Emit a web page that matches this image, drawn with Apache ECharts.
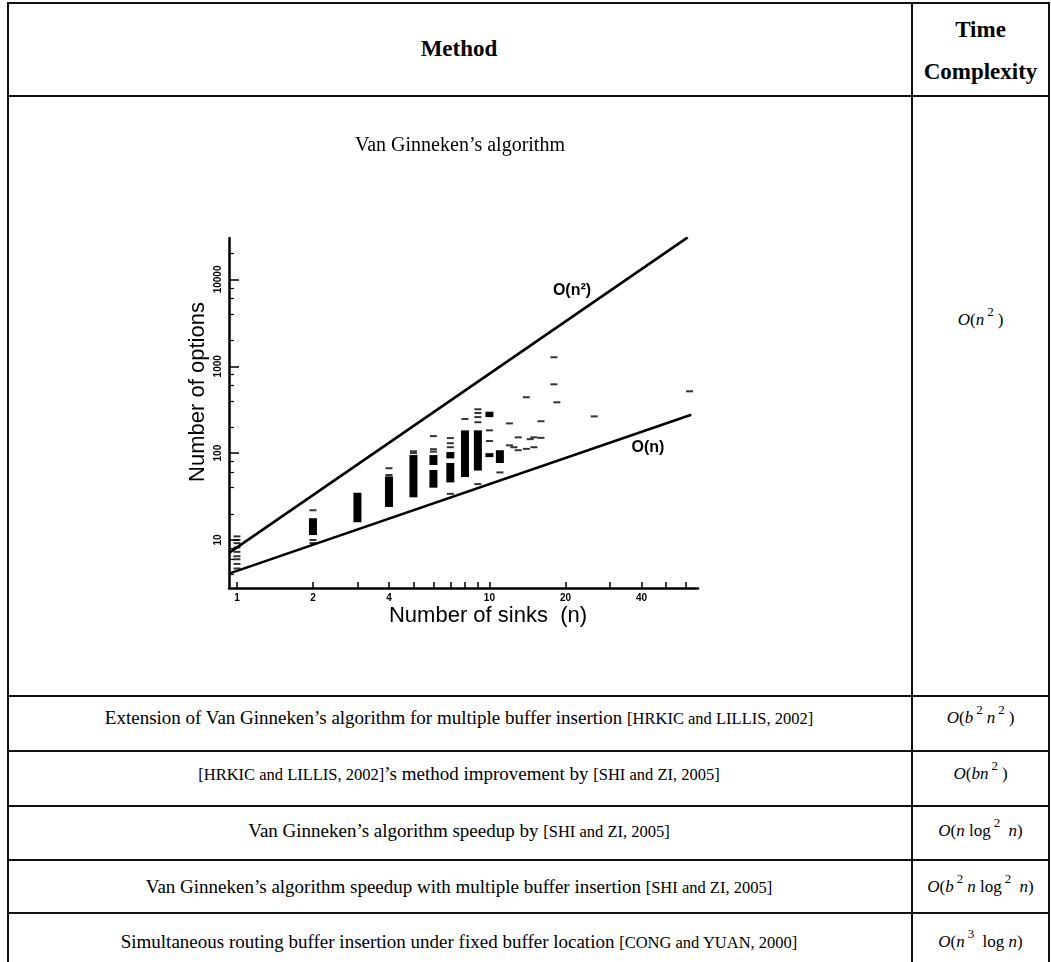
<!DOCTYPE html>
<html>
<head>
<meta charset="utf-8">
<script src="https://cdn.jsdelivr.net/npm/echarts@6/dist/echarts.min.js"></script>
<style>
html, body { margin: 0; padding: 0; background: #fff; }
#page { position: relative; width: 1051px; height: 962px; overflow: hidden;
  font-family: "Liberation Serif", "Times New Roman", serif; color: #000; }
.h { position: absolute; height: 2px; background: #111; }
.v { position: absolute; width: 2px; background: #111; }
.cell { position: absolute; display: flex; align-items: center; justify-content: center; text-align: center; white-space: nowrap; }
.head { font-weight: bold; font-size: 23px; line-height: 42px; }
.row { font-size: 19px; }
.cite { font-size: 16.5px; }
.cx { font-size: 17px; }
.cx i { font-style: italic; }
.cx sup { font-size: 13px; vertical-align: 9px; margin: 0 4px 0 3px; line-height: 0; }
#chart { position: absolute; left: 0; top: 0; width: 1051px; height: 962px; }
</style>
</head>
<body>
<div id="page">
  <div id="table"></div>
  <div id="chart"></div>
</div>
<script>
// table text
const methods = [
  'Extension of Van Ginneken\u2019s algorithm for multiple buffer insertion <span class="cite">[HRKIC and LILLIS, 2002]</span>',
  '<span class="cite">[HRKIC and LILLIS, 2002]</span>\u2019s method improvement by <span class="cite">[SHI and ZI, 2005]</span>',
  'Van Ginneken\u2019s algorithm speedup by <span class="cite">[SHI and ZI, 2005]</span>',
  'Van Ginneken\u2019s algorithm speedup with multiple buffer insertion <span class="cite">[SHI and ZI, 2005]</span>',
  'Simultaneous routing buffer insertion under fixed buffer location <span class="cite">[CONG and YUAN, 2000]</span>'
];
const complexities = [
  '<i>O</i>(<i>b</i><sup>2</sup><i>n</i><sup>2</sup>)',
  '<i>O</i>(<i>bn</i><sup>2</sup>)',
  '<i>O</i>(<i>n</i> log<sup>2</sup> <i>n</i>)',
  '<i>O</i>(<i>b</i><sup>2</sup><i>n</i> log<sup>2</sup> <i>n</i>)',
  '<i>O</i>(<i>n</i><sup>3</sup> log <i>n</i>)'
];
const chartRowComplexity = '<i>O</i>(<i>n</i><sup>2</sup>)';

// chart data
const sinkTicks = [1, 2, 3, 4, 5, 6, 7, 8, 9, 10, 20, 30, 40, 50, 60];
const sinkLabels = [1, 2, 4, 10, 20, 40];
const optionLabels = [10, 100, 1000, 10000];
const optionMinorTicks = [4, 6, 8, 20, 40, 60, 80, 200, 400, 600, 800, 2000, 4000, 6000, 8000, 20000];
const quadraticLine = [[0.93, 7.1], [61, 30500]];
const linearLine = [[0.93, 4.1], [63, 277]];
// solid blocks of options: [sinks, low, high]
const denseRanges = [
  [2, 11.4, 17.8], [3, 16, 35], [4, 24, 54], [5, 31, 95],
  [6, 73, 95], [6, 40, 64], [7, 87, 103], [7, 46, 77],
  [8, 53, 183], [9, 63, 183], [10, 260, 300], [10, 90, 100], [11, 77, 108]
];
// single option marks: [sinks, options]
const sparseMarks = [
  [1, 11], [1, 10], [1, 9.2], [1, 8.2], [1, 7.3], [1, 6.5], [1, 6], [1, 5.3], [1, 4.7],
  [2, 22], [2, 10], [2, 9.2],
  [4, 67], [4, 56], [5, 105], [5, 100],
  [6, 157], [6, 111], [6, 104],
  [7, 149], [7, 130], [7, 117], [7, 34],
  [8, 247], [9, 320], [9, 290], [9, 260], [9, 227], [9, 44],
  [10, 183], [10, 138], [11, 60],
  [12, 220], [12, 123], [12.5, 117], [13, 152], [13, 108], [14, 440], [14, 112], [14.5, 145],
  [15, 152], [15, 117], [16, 233], [16, 150], [18, 1270], [18, 620], [18.5, 385], [26, 265], [62, 515]
];

// table layout
const colLeft = 7, colMid = 911, colRight = 1048;
const rowLines = [2, 95, 695, 750, 805, 859, 912];
const rowTextCentres = [718, 774, 831, 887, 942];
let html = '';
rowLines.forEach(y => { html += `<div class="h" style="left:${colLeft}px;width:${colRight - colLeft + 2}px;top:${y}px"></div>`; });
[colLeft, colMid, colRight].forEach(x => { html += `<div class="v" style="left:${x}px;top:2px;height:962px"></div>`; });
html += `<div class="cell head" style="left:${colLeft}px;width:${colMid - colLeft}px;top:2px;height:93px"><span>Method</span></div>`;
html += `<div class="cell head" style="left:${colMid}px;width:${colRight - colMid + 2}px;top:4px;height:93px"><span>Time<br>Complexity</span></div>`;
html += `<div class="cell cx" style="left:${colMid}px;width:${colRight - colMid + 2}px;top:300px;height:40px"><span>${chartRowComplexity}</span></div>`;
methods.forEach((m, i) => {
  const c = rowTextCentres[i];
  html += `<div class="cell row" style="left:${colLeft}px;width:${colMid - colLeft}px;top:${c - 20}px;height:40px"><span>${m}</span></div>`;
  html += `<div class="cell cx" style="left:${colMid}px;width:${colRight - colMid + 2}px;top:${c - 20}px;height:40px"><span>${complexities[i]}</span></div>`;
});
document.getElementById('table').innerHTML = html;

const chart = echarts.init(document.getElementById('chart'), null, { renderer: 'canvas' });
const axisFont = '"Liberation Sans", Arial, sans-serif';

chart.setOption({
  animation: false,
  backgroundColor: 'transparent',
  grid: { left: 229, top: 238, width: 469, height: 350 },
  xAxis: {
    type: 'log',
    min: 0.93,
    max: 67,
    axisLine: { lineStyle: { color: '#000', width: 2.5 } },
    axisTick: { inside: true, length: 6, customValues: sinkTicks, lineStyle: { color: '#000', width: 1.5 } },
    axisLabel: { customValues: sinkLabels, color: '#000', fontFamily: axisFont, fontWeight: 'bold', fontSize: 10, margin: 5 },
    splitLine: { show: false },
    minorTick: { show: false }
  },
  yAxis: [
    {
      type: 'log',
      min: 2.8,
      max: 30000,
      axisLine: { lineStyle: { color: '#000', width: 2.5 } },
      axisTick: { inside: true, length: 10, customValues: optionLabels, lineStyle: { color: '#000', width: 1.5 } },
      axisLabel: {
        customValues: optionLabels, rotate: 90, color: '#000', fontFamily: axisFont,
        fontWeight: 'bold', fontSize: 10, margin: 6,
        formatter: v => String(Math.round(v))
      },
      splitLine: { show: false }
    },
    {
      type: 'log',
      min: 2.8,
      max: 30000,
      position: 'left',
      offset: 0,
      axisLine: { show: false },
      axisTick: { inside: true, length: 5, customValues: optionMinorTicks, lineStyle: { color: '#000', width: 1.2 } },
      axisLabel: { show: false },
      splitLine: { show: false }
    }
  ],
  series: [
    {
      type: 'line',
      data: quadraticLine,
      symbol: 'none',
      lineStyle: { color: '#000', width: 2.6 }
    },
    {
      type: 'line',
      data: linearLine,
      symbol: 'none',
      lineStyle: { color: '#000', width: 2.6 }
    },
    {
      type: 'custom',
      data: denseRanges,
      encode: { x: 0, y: [1, 2] },
      renderItem(params, api) {
        const top = api.coord([api.value(0), api.value(2)]);
        const bottom = api.coord([api.value(0), api.value(1)]);
        return {
          type: 'rect',
          shape: { x: top[0] - 4, y: top[1], width: 8, height: bottom[1] - top[1] },
          style: { fill: '#000' }
        };
      }
    },
    {
      type: 'scatter',
      data: sparseMarks,
      symbol: 'rect',
      symbolSize: [7, 2],
      itemStyle: { color: '#000' }
    }
  ],
  graphic: [
    {
      type: 'text', x: 460, y: 146,
      style: { text: 'Van Ginneken\u2019s algorithm', font: '20px "Liberation Serif", serif', align: 'center', verticalAlign: 'middle', fill: '#000' }
    },
    {
      type: 'text', x: 198, y: 392, rotation: Math.PI / 2,
      style: { text: 'Number of options', font: '22px ' + axisFont, align: 'center', verticalAlign: 'middle', fill: '#000' }
    },
    {
      type: 'text', x: 488, y: 616,
      style: { text: 'Number of sinks  (n)', font: '22px ' + axisFont, align: 'center', verticalAlign: 'middle', fill: '#000' }
    },
    {
      type: 'text', x: 572, y: 291,
      style: { text: 'O(n\u00b2)', font: 'bold 16px ' + axisFont, align: 'center', verticalAlign: 'middle', fill: '#000' }
    },
    {
      type: 'text', x: 648, y: 448,
      style: { text: 'O(n)', font: 'bold 16px ' + axisFont, align: 'center', verticalAlign: 'middle', fill: '#000' }
    }
  ]
});
</script>
</body>
</html>
